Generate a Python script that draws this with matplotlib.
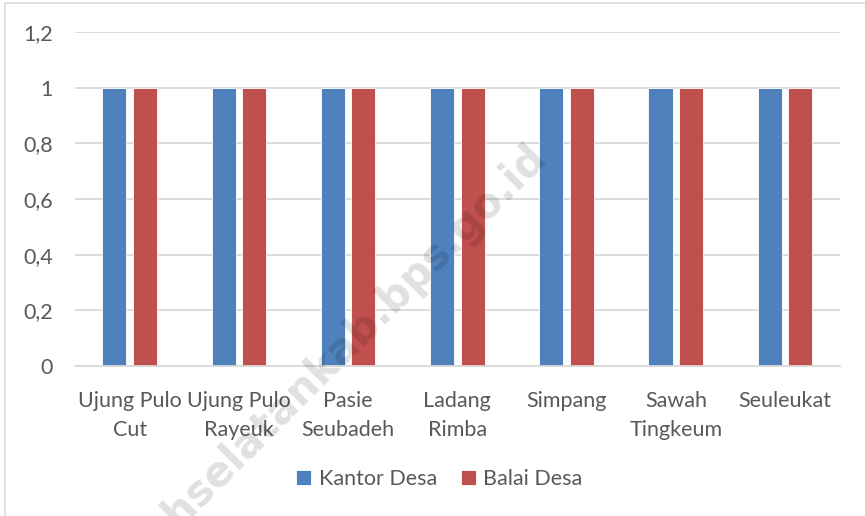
import numpy as np
import matplotlib
matplotlib.use('Agg')
from matplotlib import pyplot as plt
from matplotlib.patches import Rectangle

categories = ['Ujung Pulo\nCut', 'Ujung Pulo\nRayeuk', 'Pasie\nSeubadeh', 'Ladang\nRimba',
              'Simpang', 'Sawah\nTingkeum', 'Seuleukat']
kantor_desa = [1, 1, 1, 1, 1, 1, 1]
balai_desa = [1, 1, 1, 1, 1, 1, 1]
series_names = ['Kantor Desa', 'Balai Desa']
yticks = [0, 0.2, 0.4, 0.6, 0.8, 1.0, 1.2]
ytick_labels = ['0', '0,2', '0,4', '0,6', '0,8', '1', '1,2']

plt.rcParams['font.family'] = ['Lato', 'DejaVu Sans']
txt = '#595959'
blue, red = '#4F81BD', '#C0504D'
fs = 15.5

fig = plt.figure(figsize=(8.65, 5.16), dpi=100)
ax = fig.add_axes([0.0867, 0.2907, 0.884, 0.6473])

x = np.arange(len(categories))
w = 0.22
ax.bar(x - 0.14, kantor_desa, w, color=blue, edgecolor='white', linewidth=0.6,
       label=series_names[0], zorder=2)
ax.bar(x + 0.14, balai_desa, w, color=red, edgecolor='white', linewidth=0.6,
       label=series_names[1], zorder=2)

ax.set_xlim(-0.5, len(categories) - 0.5)
ax.set_ylim(0, 1.2)
ax.set_yticks(yticks)
ax.set_yticklabels(ytick_labels)
ax.set_xticks(x)
ax.set_xticklabels(categories, linespacing=1.55)
ax.tick_params(length=0, labelsize=fs, colors=txt)
ax.tick_params(axis='y', pad=16)
ax.tick_params(axis='x', pad=18)
ax.grid(axis='y', color='#D9D9D9', linewidth=1.3, zorder=0)
for s in ['top', 'right', 'left']:
    ax.spines[s].set_visible(False)
ax.spines['bottom'].set_color('#D9D9D9')
ax.spines['bottom'].set_linewidth(1.3)

leg = fig.legend(loc='center', bbox_to_anchor=(0.508, 0.071), ncol=2, frameon=False,
                 fontsize=fs, handlelength=0.7, handleheight=0.7, handletextpad=0.35,
                 columnspacing=1.1)
for t in leg.get_texts():
    t.set_color(txt)

# chart border
fig.patches.append(Rectangle((5 / 865, -0.05), 1.0, 1 - 3 / 516 + 0.05, transform=fig.transFigure,
                             fill=False, edgecolor='#D9D9D9', linewidth=1.2))

# watermark
fig.text(540 / 865, 1 - 152 / 516, 'acehselatankab.bps.go.id', rotation=45,
         rotation_mode='anchor', ha='right', va='center', fontsize=30,
         fontweight='bold', family='DejaVu Sans', color='#000000', alpha=0.12, zorder=10)

fig.savefig('out.png', dpi=100)
